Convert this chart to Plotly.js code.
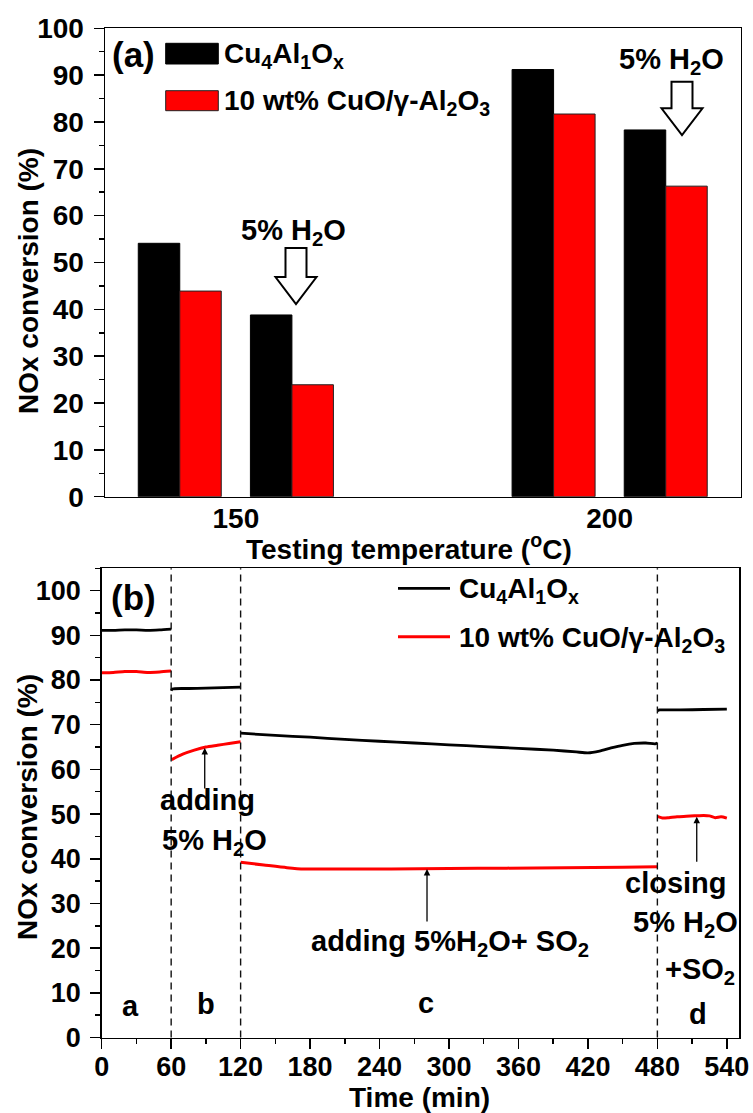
<!DOCTYPE html>
<html><head><meta charset="utf-8">
<script src="https://cdn.plot.ly/plotly-3.0.1.min.js"></script>
<style>html,body{margin:0;padding:0;background:#fff}#chart{width:753px;height:1113px}</style>
</head><body><div id="chart"></div>
<script>
// ---------- Panel (a): bar data ----------
const temperatures = [150, 150, 200, 200];
const conditions = ['dry', 'wet', 'dry', 'wet'];   // wet = with 5% H2O
const cuAlOxBar = [54.1, 38.8, 91.2, 78.3];
const cuOAl2O3Bar = [43.9, 23.9, 81.7, 66.3];
const tempTicks = [150, 200];
const tempTickText = ['150', '200'];

// ---------- Panel (b): time-on-stream data ----------
const timeBlack = [0, 10, 20, 30, 40, 50, 60, null,
  60, 61, 75, 90, 105, 120, null,
  120, 150, 180, 210, 240, 270, 300, 330, 360, 390, 410, 420, 430, 440, 450, 460, 470, 478, 480, null,
  480, 482, 500, 520, 540];
const convBlack = [91.1, 91.1, 91.2, 91.2, 91.1, 91.2, 91.4, null,
  77.6, 78.0, 78.1, 78.2, 78.3, 78.4, null,
  68.1, 67.6, 67.2, 66.7, 66.3, 65.9, 65.5, 65.1, 64.7, 64.3, 63.9, 63.7, 64.1, 64.8, 65.4, 65.8, 65.9, 65.7, 65.9, null,
  73.1, 73.3, 73.3, 73.4, 73.5];
const timeRed = [0, 10, 20, 30, 40, 50, 60, null,
  60.5, 70, 80, 90, 100, 110, 120, null,
  120, 140, 160, 175, 200, 250, 300, 350, 400, 450, 480, null,
  480, 485, 490, 497, 505, 512, 520, 525, 530, 535, 540];
const convRed = [81.6, 81.7, 81.9, 81.9, 81.7, 81.8, 82.0, null,
  62.2, 63.4, 64.3, 65.0, 65.4, 65.8, 66.2, null,
  39.2, 38.6, 38.0, 37.7, 37.7, 37.7, 37.8, 37.9, 38.0, 38.1, 38.2, null,
  49.5, 49.1, 49.2, 49.4, 49.5, 49.6, 49.7, 49.6, 49.2, 49.4, 49.1];
const timeTicks = [0, 60, 120, 180, 240, 300, 360, 420, 480, 540];
const stageBounds = [60, 120, 480];
const stageLabels = ['a', 'b', 'c', 'd'];
const stageTime = [25, 90, 280, 515];
const stageLevel = [7.0, 7.5, 7.7, 5.2];

const nameA = 'Cu<sub>4</sub>Al<sub>1</sub>O<sub>x</sub>';
const nameB = '10 wt% CuO/γ-Al<sub>2</sub>O<sub>3</sub>';

// ---------- helpers ----------
const W = 753, H = 1113;
const FONT = 'Liberation Sans, Arial, Helvetica, sans-serif';
const px = x => x / W, py = y => 1 - y / H;
const pairOffset = 7.5, barW = 5.55;
const barX = temperatures.map((t, i) => t + (conditions[i] === 'dry' ? -pairOffset : pairOffset));

const traces = [
  {type: 'bar', x: barX, y: cuAlOxBar, name: nameA, width: barW, offset: -barW,
   marker: {color: '#000', line: {color: '#000', width: 1}}, xaxis: 'x', yaxis: 'y'},
  {type: 'bar', x: barX, y: cuOAl2O3Bar, name: nameB, width: barW, offset: 0,
   marker: {color: '#ff0000', line: {color: '#222', width: 1}}, xaxis: 'x', yaxis: 'y'},
  {type: 'scatter', mode: 'lines', x: timeBlack, y: convBlack, name: nameA, connectgaps: false,
   line: {color: '#000', width: 2.8, shape: 'spline', smoothing: 0.6}, xaxis: 'x2', yaxis: 'y2'},
  {type: 'scatter', mode: 'lines', x: timeRed, y: convRed, name: nameB, connectgaps: false,
   line: {color: '#ff0000', width: 3, shape: 'spline', smoothing: 0.6}, xaxis: 'x2', yaxis: 'y2'}
];

const axisCommon = {showline: true, mirror: true, linecolor: '#000', linewidth: 1.5,
  showgrid: false, zeroline: false, fixedrange: true, tickcolor: '#000', tickwidth: 1.5};

function downArrow(cx, top, headStart, tip, sh, hh) {
  const X = v => px(v).toFixed(5), Y = v => py(v).toFixed(5);
  return `M${X(cx - sh)},${Y(top)} L${X(cx + sh)},${Y(top)} L${X(cx + sh)},${Y(headStart)} L${X(cx + hh)},${Y(headStart)} L${X(cx)},${Y(tip)} L${X(cx - hh)},${Y(headStart)} L${X(cx - sh)},${Y(headStart)} Z`;
}

const shapes = [
  // hollow arrows panel (a)
  {type: 'path', xref: 'paper', yref: 'paper', path: downArrow(296, 248, 277, 304, 10.5, 20.5),
   fillcolor: '#fff', line: {color: '#000', width: 2}},
  {type: 'path', xref: 'paper', yref: 'paper', path: downArrow(682, 81.7, 108.3, 135, 10.5, 20.5),
   fillcolor: '#fff', line: {color: '#000', width: 2}},
  // legend (a)
  {type: 'rect', xref: 'paper', yref: 'paper', x0: px(165.7), x1: px(218.3), y0: py(64), y1: py(43.3),
   fillcolor: '#000', line: {color: '#000', width: 1}},
  {type: 'rect', xref: 'paper', yref: 'paper', x0: px(165.7), x1: px(218.3), y0: py(110.7), y1: py(90.7),
   fillcolor: '#ff0000', line: {color: '#222', width: 1}},
  // legend (b)
  {type: 'line', xref: 'paper', yref: 'paper', x0: px(398), x1: px(450), y0: py(588.3), y1: py(588.3),
   line: {color: '#000', width: 2.8}},
  {type: 'line', xref: 'paper', yref: 'paper', x0: px(398), x1: px(450), y0: py(636.7), y1: py(636.7),
   line: {color: '#ff0000', width: 3}}
];
stageBounds.forEach(t => shapes.push({type: 'line', xref: 'x2', yref: 'y2 domain', x0: t, x1: t, y0: 0, y1: 1,
  line: {color: '#111', width: 1.4, dash: '7px,5px'}}));

const ann = (o) => Object.assign({showarrow: false, xref: 'paper', yref: 'paper',
  xanchor: 'center', yanchor: 'middle', font: {size: 29}}, o);
const annotations = [
  ann({text: '(a)', x: px(133.5), y: py(55), font: {size: 35}}),
  ann({text: nameA, x: px(222), y: py(56), xanchor: 'left', font: {size: 28}}),
  ann({text: nameB, x: px(222), y: py(103), xanchor: 'left', font: {size: 28}}),
  ann({text: '5% H<sub>2</sub>O', x: px(293), y: py(232)}),
  ann({text: '5% H<sub>2</sub>O', x: px(671.7), y: py(61)}),
  ann({text: 'Testing temperature (<sup>o</sup>C)', x: px(409.5), y: py(546.7), font: {size: 28}}),
  ann({text: 'NOx conversion (%)', x: px(28), y: py(281), textangle: -90, font: {size: 28}}),
  ann({text: 'NOx conversion (%)', x: px(27), y: py(807), textangle: -90, font: {size: 28}}),
  ann({text: 'Time (min)', x: px(420), y: py(1097), font: {size: 28}}),
  ann({text: '(b)', x: px(133.7), y: py(597), font: {size: 35}}),
  ann({text: nameA, x: px(457), y: py(590), xanchor: 'left', font: {size: 28}}),
  ann({text: nameB, x: px(457), y: py(639), xanchor: 'left', font: {size: 28}}),
  // panel (b) notes
  ann({text: 'adding', xref: 'x2', yref: 'y2', x: 91.6, y: 53.1}),
  ann({text: '5% H<sub>2</sub>O', xref: 'x2', yref: 'y2', x: 97.7, y: 43.7}),
  ann({text: 'adding 5%H<sub>2</sub>O+ SO<sub>2</sub>', xref: 'x2', yref: 'y2', x: 300.8, y: 21.2}),
  ann({text: 'closing', xref: 'x2', yref: 'y2', x: 496.3, y: 34.6}),
  ann({text: '5% H<sub>2</sub>O', xref: 'x2', yref: 'y2', x: 503.9, y: 25.4}),
  ann({text: '+SO<sub>2</sub>', xref: 'x2', yref: 'y2', x: 516.9, y: 14.9}),
  // thin arrows
  {xref: 'x2', yref: 'y2', x: 89, y: 64.8, ax: 0, ay: 42, text: '', showarrow: true,
   arrowhead: 2, arrowsize: 1, arrowwidth: 1.3, arrowcolor: '#000'},
  {xref: 'x2', yref: 'y2', x: 281, y: 37.7, ax: 0, ay: 54, text: '', showarrow: true,
   arrowhead: 2, arrowsize: 1, arrowwidth: 1.3, arrowcolor: '#000'},
  {xref: 'x2', yref: 'y2', x: 514, y: 49.4, ax: 0, ay: 46.6, text: '', showarrow: true,
   arrowhead: 2, arrowsize: 1, arrowwidth: 1.3, arrowcolor: '#000'}
];
stageLabels.forEach((s, i) => annotations.push(ann({text: s, xref: 'x2', yref: 'y2', x: stageTime[i], y: stageLevel[i]})));

const layout = {
  width: W, height: H, margin: {l: 0, r: 0, t: 0, b: 0},
  paper_bgcolor: '#fff', plot_bgcolor: '#fff', showlegend: false,
  font: {family: FONT, size: 27, color: '#000', weight: 'bold'},
  xaxis: Object.assign({}, axisCommon, {domain: [px(105), px(740.5)], range: [132.5, 217.5],
    tickmode: 'array', tickvals: tempTicks, ticktext: tempTickText, ticks: '', anchor: 'y',
    tickfont: {size: 28}, ticklabelstandoff: -4}),
  yaxis: Object.assign({}, axisCommon, {domain: [py(496.7), py(28.3)], range: [0, 100],
    tick0: 0, dtick: 10, ticks: 'outside', ticklen: 10, anchor: 'x', tickfont: {size: 28},
    ticklabelstandoff: 4,
    minor: {tick0: 0, dtick: 5, ticks: 'outside', ticklen: 5, tickwidth: 1.5, tickcolor: '#000'}}),
  xaxis2: Object.assign({}, axisCommon, {domain: [px(101.7), px(739)], range: [0, 550.5],
    tickmode: 'array', tickvals: timeTicks, ticks: 'outside', ticklen: 10, anchor: 'y2',
    ticklabelstandoff: -5,
    minor: {tickmode: 'linear', tick0: 0, dtick: 30, ticks: 'outside', ticklen: 5, tickwidth: 1.5, tickcolor: '#000'}}),
  yaxis2: Object.assign({}, axisCommon, {domain: [py(1037.5), py(568.3)], range: [0, 105],
    tick0: 0, dtick: 10, ticks: 'outside', ticklen: 10, anchor: 'x2', ticklabelstandoff: 4,
    minor: {tick0: 0, dtick: 5, ticks: 'outside', ticklen: 5, tickwidth: 1.5, tickcolor: '#000'}}),
  shapes: shapes,
  annotations: annotations
};

Plotly.newPlot('chart', traces, layout, {staticPlot: true, displayModeBar: false});
</script></body></html>
